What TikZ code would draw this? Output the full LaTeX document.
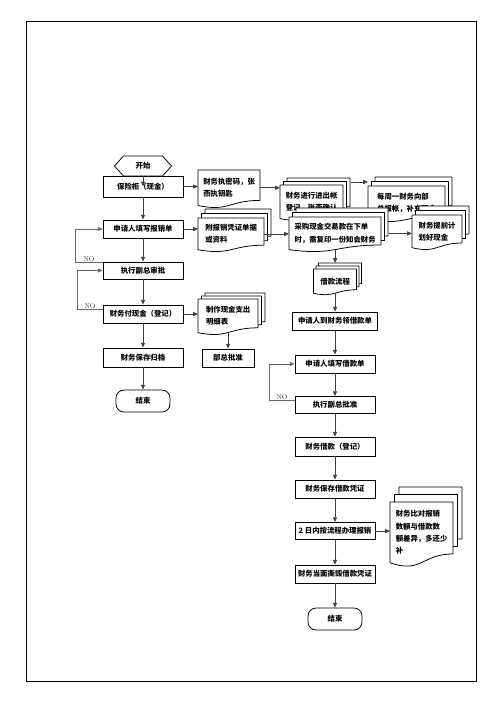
\documentclass[tikz,border=0pt]{standalone}
\usepackage{fontspec}
\newfontfamily\cjk{Noto Sans CJK SC}
\usetikzlibrary{shapes.symbols,arrows.meta}

\tikzset{
  stepbox/.style={draw=black, line width=1.2pt, fill=white,
                  minimum width=40mm, minimum height=9mm, inner sep=1pt,
                  font=\cjk\bfseries\fontsize{10.5}{13}\selectfont},
  startbox/.style={signal, signal to=west and east, signal pointer angle=96,
                  draw=black, line width=1.1pt, fill=white,
                  minimum width=28.5mm, minimum height=10mm,
                  font=\cjk\bfseries\fontsize{10.5}{13}\selectfont},
  endbox/.style={draw=black, line width=1.1pt, fill=white, rounded corners=4mm,
                  minimum width=27mm, minimum height=11mm,
                  font=\cjk\bfseries\fontsize{10.5}{13}\selectfont},
  docline/.style={draw=black, line width=1.1pt, fill=white, line join=round},
  doctext/.style={align=left, inner sep=0pt, anchor=north west,
                  font=\cjk\bfseries\fontsize{10.5}{17.5}\selectfont},
  arr/.style={black!75, line width=1pt,
                  -{Triangle[length=2.4mm, width=2mm]}},
  loopline/.style={black!60, line width=1pt,
                  -{Triangle[length=2.4mm, width=2mm]}},
  nolabel/.style={above, inner sep=0.5pt, text=black!80,
                  font=\rmfamily\fontsize{10}{11}\selectfont},
  frame/.style={draw=black, line width=1.3pt}
}

% wavy document outline, top-left at the local origin
\newcommand{\docshape}[2]{%
  \draw[docline] (0,0) -- (#1,0) -- (#1,0.8*#2)
    .. controls (0.5*#1,0.8*#2) and (0.5*#1,1.107*#2) .. (0,0.934*#2) -- cycle;}

% name, left, top, width, height, text
\newcommand{\docnode}[6]{%
  \begin{scope}[shift={(#2,#3)}]
    \docshape{#4}{#5}
  \end{scope}
  \node[doctext, minimum width=#4*0.5mm, minimum height=#5*0.465mm] (#1) at (#2,#3) {#6};
}

% stacked documents, [dx/dy] offset of the layers behind
\newcommand{\multidoc}[7][3.5/4.5]{%
  \foreach \dx/\dy in {#1}{
    \foreach \k in {2,1}{
      \begin{scope}[shift={(#3+\k*\dx,#4-\k*\dy)}]
        \docshape{#5}{#6}
      \end{scope}
    }
  }
  \docnode{#2}{#3}{#4}{#5}{#6}{#7}
}

\begin{document}
\begin{tikzpicture}[x=0.5mm, y=-0.5mm]

\useasboundingbox (0,0) rectangle (496,702);
\draw[frame] (26,21) rectangle (476,681);

% Left column: reimbursement
\node[startbox] (start) at (143,166) {开始};
\node[stepbox, minimum height=10.5mm] (cash) at (143,186.5) {保险柜（现金）};
\node[stepbox] (claim) at (143,229) {申请人填写报销单};
\node[stepbox, minimum height=8.5mm] (vp) at (143,270.5) {执行副总审批};
\node[stepbox] (pay) at (143,314) {财务付现金（登记）};
\node[stepbox, minimum height=9.5mm] (archive) at (143,357.5) {财务保存归档};
\node[endbox] (end1) at (143,401) {结束};

% Documents beside it
\docnode{key}{198}{170}{62}{38}{财务执密码，张\\燕执钥匙}
\multidoc{attach}{198}{218}{66}{34}{附报销凭证单据\\或资料}
\multidoc[3.5/3]{detail}{198}{299}{60}{36}{制作现金支出\\明细表}
\node[stepbox, minimum width=26mm] (chief) at (228,358) {部总批准};

% Middle documents
\multidoc[3.5/3.5]{ledger}{280}{185}{63}{36}{财务进行进出帐\\登记，张燕确认}
\multidoc{weekly}{368}{186}{77}{36}{每周一财务向部\\总报帐，补充现金}
\multidoc{purchase}{289}{217}{92}{35}{采购现金交易款在下单\\时，需复印一份知会财务}
\multidoc{plan}{412}{215}{50}{35}{财务提前计\\划好现金}
\multidoc[2.5/3]{loan}{313.5}{269}{43}{26}{借款流程}

% Right column: cash advance
\node[stepbox, minimum width=42.5mm] (fetch) at (335,321) {申请人到财务领借款单};
\node[stepbox] (fill) at (335,364) {申请人填写借款单};
\node[stepbox, minimum height=8.5mm] (approve) at (335,405) {执行副总批准};
\node[stepbox, minimum height=9.5mm] (lend) at (335,446.5) {财务借款（登记）};
\node[stepbox] (keep) at (335,489) {财务保存借款凭证};
\node[stepbox, minimum height=8.5mm] (repay) at (335,531) {2 日内按流程办理报销};
\node[stepbox] (destroy) at (335,574) {财务当面撕毁借款凭证};
\node[endbox] (end2) at (335,619) {结束};
\multidoc[4.5/7.5]{compare}{390}{502}{63}{65}{财务比对报销\\数额与借款数\\额差异，多还少\\补}

% Flow, left
\draw[arr] (start.south) -- (cash.center);
\draw[arr] (cash) -- (claim);
\draw[arr] (claim) -- (vp);
\draw[arr] (vp) -- (pay);
\draw[arr] (pay) -- (archive);
\draw[arr] (archive) -- (end1);
\draw[loopline] ([yshift=-0.5mm]vp.north west) -- node[nolabel] {NO} ++(-27,0) |- (claim.west);
\draw[loopline] ([yshift=-2.5mm]pay.north west) -- node[nolabel] {NO} ++(-25,0) |- (vp.west);

% Flow, documents
\draw[arr] (cash.east) -- (cash.east -| key.west);
\draw[arr] (claim.east) -- (claim.east -| attach.west);
\draw[arr] (pay.east) -- (pay.east -| detail.west);
\draw[arr] (detail.south) -- (detail.south |- chief.north);
\draw[arr] (key.east) -- (key.east -| ledger.west);
\draw[arr] ([shift={(4mm,1.5mm)}]ledger.north east) coordinate (lw) -- (lw -| weekly.west);
\draw[arr] (attach.east) -- (attach.east -| purchase.west);
\draw[arr] ([xshift=4mm]purchase.east) coordinate (pe) -- (pe -| plan.west);
\draw[arr] (purchase.south) -- ([yshift=3mm]purchase.south |- loan.north);

% Flow, right
\draw[arr] (loan.south) -- (loan.south |- fetch.north);
\draw[arr] (fetch) -- (fill);
\draw[arr] (fill) -- (approve);
\draw[arr] (approve) -- (lend);
\draw[arr] (lend) -- (keep);
\draw[arr] (keep) -- (repay);
\draw[arr] (repay) -- (destroy);
\draw[arr] (destroy) -- (end2);
\draw[arr] (repay.east) -- (repay.east -| compare.west);
\draw[loopline] ([yshift=-2mm]approve.north west) -- node[nolabel] {NO} ++(-25,0) |- (fill.west);

\end{tikzpicture}
\end{document}
